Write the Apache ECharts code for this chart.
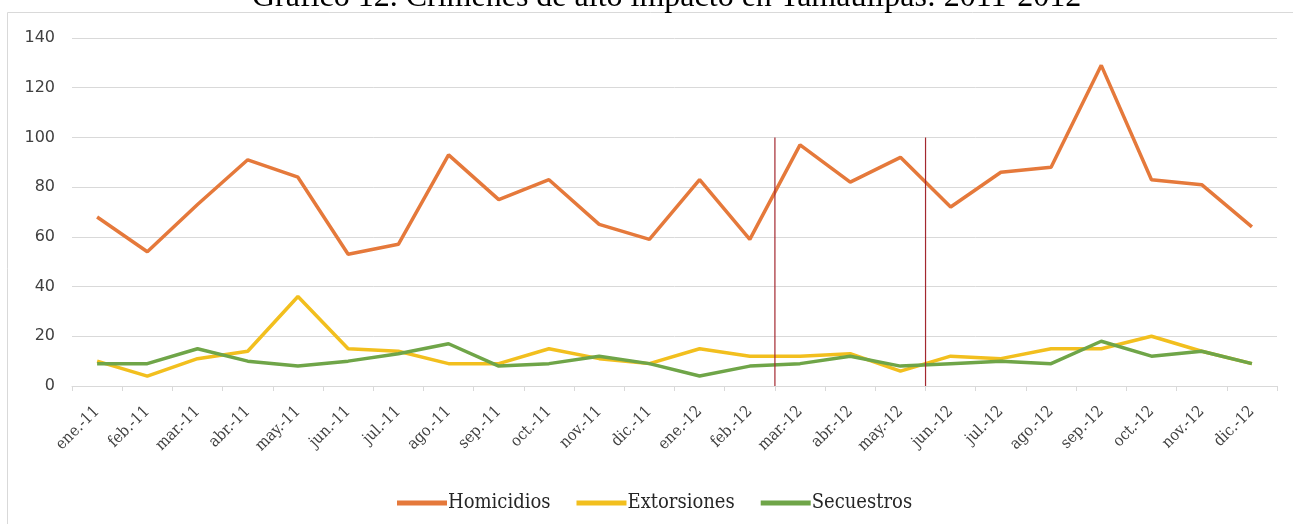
<!DOCTYPE html>
<html><head><meta charset="utf-8">
<script src="https://cdn.jsdelivr.net/npm/echarts@6/dist/echarts.min.js"></script>
<style>html,body{margin:0;padding:0;background:#fff}#c{width:1293px;height:524px}</style>
</head><body><div id="c"></div>
<script>
const categories = ['ene.-11','feb.-11','mar.-11','abr.-11','may.-11','jun.-11','jul.-11','ago.-11','sep.-11','oct.-11','nov.-11','dic.-11',
  'ene.-12','feb.-12','mar.-12','abr.-12','may.-12','jun.-12','jul.-12','ago.-12','sep.-12','oct.-12','nov.-12','dic.-12'];
const homicidios = [68,54,73,91,84,53,57,93,75,83,65,59,83,59,97,82,92,72,86,88,129,83,81,64];
const extorsiones = [10,4,11,14,36,15,14,9,9,15,11,9,15,12,12,13,6,12,11,15,15,20,14,9];
const secuestros = [9,9,15,10,8,10,13,17,8,9,12,9,4,8,9,12,8,9,10,9,18,12,14,9];
const yTicks = {min:0, max:140, interval:20};
const markerPositions = [14, 17]; // category boundaries (before mar.-12 and jun.-12)
const markerTop = 100;
const title = 'Gráfico 12. Crímenes de alto impacto en Tamaulipas: 2011-2012';

const chart = echarts.init(document.getElementById('c'));
const lineSeries = (name, data, color) => ({
  name, type:'line', data, symbol:'none', smooth:false,
  lineStyle:{width:3.5, color}, itemStyle:{color}, z:3
});
const markers = markerPositions.map(p => ({
  type:'line', xAxisIndex:1, data:[[p,0],[p,markerTop]], symbol:'none',
  lineStyle:{width:1.2, color:'#a3282f'}, itemStyle:{color:'#a3282f'}, silent:true, z:4
}));
chart.setOption({
  animation:false,
  title:{text:title, left:252, top:-18, padding:0,
    textStyle:{fontFamily:'Liberation Serif', fontSize:32, fontWeight:'normal', color:'#000'}},
  graphic:[{type:'rect', shape:{x:7.5,y:12.5,width:1300,height:520}, style:{fill:'rgba(0,0,0,0)', stroke:'#d9d9d9', lineWidth:1}, silent:true, z:-1}],
  grid:{left:72, right:16, top:38, bottom:138},
  legend:{top:488, left:392, itemWidth:50, itemHeight:5, itemGap:26, icon:'rect',
    data:['Homicidios','Extorsiones','Secuestros'],
    textStyle:{fontFamily:'DejaVu Serif Condensed', fontSize:20, color:'#262626', padding:[0,0,0,-4]}},
  xAxis:[{
    type:'category', data:categories, boundaryGap:true,
    axisLine:{lineStyle:{color:'#d9d9d9'}},
    axisTick:{show:true, length:5, lineStyle:{color:'#d9d9d9'}},
    axisLabel:{rotate:45, interval:0, fontFamily:'DejaVu Serif Condensed', fontSize:16, color:'#404040', margin:23}
  },{
    type:'value', min:0, max:categories.length, show:false
  }],
  yAxis:{type:'value', min:yTicks.min, max:yTicks.max, interval:yTicks.interval,
    axisLine:{show:false}, axisTick:{show:false},
    splitLine:{lineStyle:{color:'#d9d9d9', width:1}},
    axisLabel:{fontFamily:'DejaVu Sans', fontSize:16, color:'#404040', margin:17}},
  series:[
    lineSeries('Homicidios', homicidios, '#e5793b'),
    lineSeries('Extorsiones', extorsiones, '#f2bf1e'),
    lineSeries('Secuestros', secuestros, '#6fa548'),
    ...markers
  ]
});
</script></body></html>
